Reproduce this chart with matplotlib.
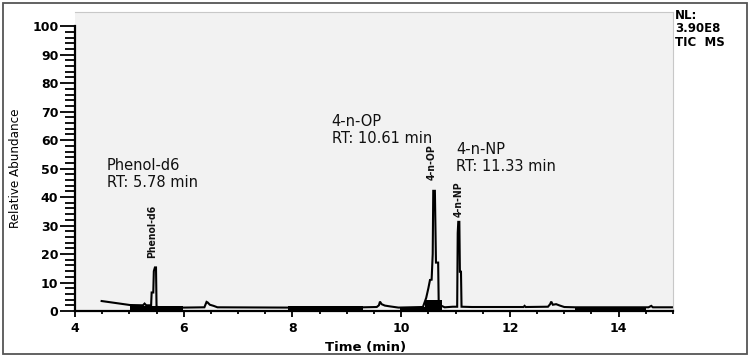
import matplotlib
matplotlib.use("Agg")
import matplotlib.pyplot as plt
from matplotlib.ticker import MultipleLocator, FixedLocator
from matplotlib.patches import Rectangle

# ---- data ----
trace_time = [4.49, 5.01, 5.25, 5.28, 5.31, 5.40, 5.41, 5.44, 5.45, 5.47, 5.49, 5.50,
              5.60, 6.00, 6.38, 6.42, 6.44, 6.48, 6.55, 6.62, 7.90, 8.60, 9.30,
              9.55, 9.59, 9.61, 9.64, 9.70, 9.80, 9.95, 10.40, 10.46, 10.50, 10.53,
              10.56, 10.58, 10.59, 10.62, 10.64, 10.65, 10.68, 10.69, 10.72, 10.80,
              10.95, 11.03, 11.04, 11.05, 11.07, 11.08, 11.10, 11.11, 11.30, 12.25,
              12.27, 12.29, 12.70, 12.74, 12.76, 12.79, 12.85, 12.92, 13.00, 13.20,
              14.55, 14.60, 14.63, 15.00]
trace_abund = [3.5, 2.1, 2.0, 2.6, 2.0, 2.0, 6.5, 6.5, 14.0, 15.3, 15.3, 1.5,
               1.2, 1.2, 1.3, 3.2, 3.0, 2.2, 1.8, 1.3, 1.2, 1.3, 1.3,
               1.4, 2.0, 3.3, 2.4, 1.9, 1.6, 1.2, 1.4, 4.6, 8.0, 10.9,
               11.0, 20.0, 42.2, 42.2, 17.0, 17.0, 17.0, 3.3, 2.0, 1.3,
               1.5, 1.5, 27.4, 31.3, 31.3, 13.8, 13.8, 1.5, 1.4, 1.4,
               1.8, 1.4, 1.5, 2.4, 3.3, 2.2, 2.4, 1.9, 1.4, 1.3,
               1.3, 1.8, 1.3, 1.3]

# dense-noise regions (start, end, top)
band_start = [5.01, 7.92, 9.97, 10.44, 13.19]
band_end = [5.99, 9.30, 10.49, 10.76, 14.51]
band_top = [1.9, 1.6, 1.5, 4.0, 1.1]

peak_names = ["Phenol-d6", "4-n-OP", "4-n-NP"]
peak_label_t = [5.42, 10.56, 11.05]
peak_label_y = [18.5, 46.0, 33.0]
anno_text = ["Phenol-d6\nRT: 5.78 min", "4-n-OP\nRT: 10.61 min", "4-n-NP\nRT: 11.33 min"]
anno_t = [4.59, 8.72, 11.01]
anno_y = [53.7, 69.1, 59.3]

x_ticks = [4, 6, 8, 10, 12, 14]
y_ticks = [0, 10, 20, 30, 40, 50, 60, 70, 80, 90, 100]
y_minor = [v for v in range(0, 101, 2)]

# ---- figure ----
W, H = 753, 361
fig = plt.figure(figsize=(W / 100, H / 100), dpi=100)
fig.patch.set_facecolor("white")

# outer frame
fig.add_artist(Rectangle((3 / W, 1 - 354 / H), (747 - 3) / W, (354 - 3) / H,
                         transform=fig.transFigure, fill=False,
                         edgecolor="#555555", linewidth=1.3))

ax = fig.add_axes([75 / W, 50 / H, (673 - 75) / W, (311 - 12) / H])
ax.set_facecolor("#f2f2f2")
ax.set_xlim(4, 15)
ax.set_ylim(0, 105)

for s, e, t in zip(band_start, band_end, band_top):
    ax.fill_between([s, e], [0, 0], [t, t], color="black", linewidth=0)
ax.plot(trace_time, trace_abund, color="black", linewidth=1.5, solid_joinstyle="miter")

for name, t, y in zip(peak_names, peak_label_t, peak_label_y):
    ax.text(t, y, name, rotation=90, ha="center", va="bottom", fontsize=7.5,
            family="DejaVu Sans", fontstretch="condensed", fontweight="bold",
            color="#111111")

for txt, t, y in zip(anno_text, anno_t, anno_y):
    ax.text(t, y, txt, ha="left", va="top", fontsize=10.5,
            family=["DejaVu Sans"], color="#111111", linespacing=1.15)

# spines
for side in ("top", "right"):
    ax.spines[side].set_color("#c8c8c8")
    ax.spines[side].set_linewidth(0.8)
ax.spines["left"].set_bounds(0, 100)
ax.spines["left"].set_linewidth(1.6)
ax.spines["bottom"].set_linewidth(1.6)

ax.set_xticks(x_ticks)
ax.set_yticks(y_ticks)
ax.xaxis.set_minor_locator(MultipleLocator(0.5))
ax.yaxis.set_minor_locator(FixedLocator(y_minor))
ax.tick_params(axis="y", which="major", direction="out", length=10.5, width=1.3, pad=1.5)
ax.tick_params(axis="y", which="minor", direction="out", length=7, width=1.3)
ax.tick_params(axis="x", which="major", direction="out", length=4.5, width=1.3, pad=3.5)
ax.tick_params(axis="x", which="minor", direction="out", length=2.5, width=1.3)
ax.tick_params(top=False, right=False, which="both")
for lab in ax.get_xticklabels() + ax.get_yticklabels():
    lab.set_fontweight("bold")
    lab.set_fontsize(9)
    lab.set_family("DejaVu Sans")

ax.set_xlabel("Time (min)", fontsize=9.5, fontweight="bold", family="DejaVu Sans")
ax.xaxis.set_label_coords((366 - 75) / (673 - 75), -(341 - 311) / (311 - 12))
ax.set_ylabel("Relative Abundance", fontsize=9.5, family="DejaVu Sans",
              fontstretch="condensed")
ax.yaxis.set_label_coords(-(75 - 22) / (673 - 75), (311 - 168) / (311 - 12))

fig.text(675 / W, 1 - 9 / H, "NL:\n3.90E8\nTIC  MS", ha="left", va="top",
         fontsize=8.5, fontweight="bold", family="DejaVu Sans", linespacing=1.05)

fig.savefig("out.png", dpi=100)
